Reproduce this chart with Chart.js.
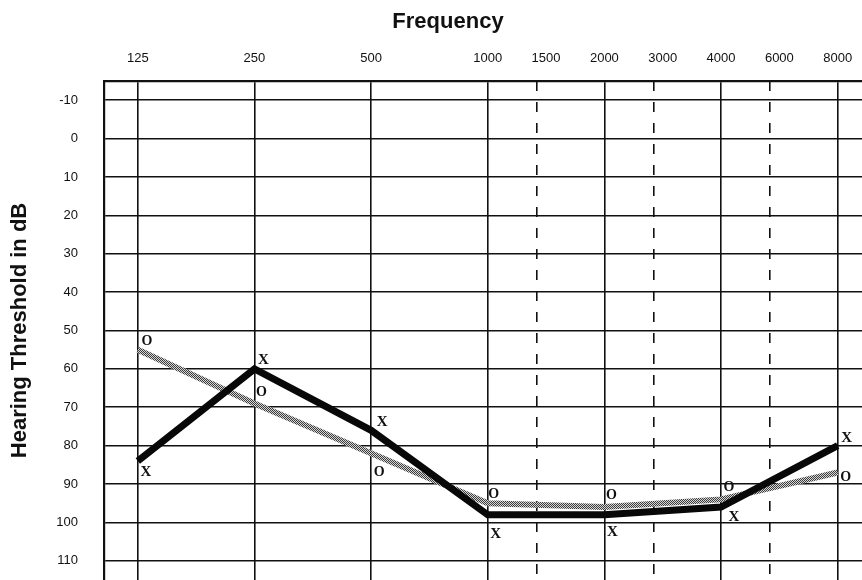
<!DOCTYPE html>
<html>
<head>
<meta charset="utf-8">
<title>Audiogram</title>
<script src="https://cdn.jsdelivr.net/npm/chart.js@4.4.1/dist/chart.umd.min.js"></script>
<style>
  html, body { margin: 0; padding: 0; background: #fff; overflow: hidden; }
  /* the grid runs on past the right edge of the page, as in the scan */
  #wrap { width: 896px; height: 580px; position: relative; }
</style>
</head>
<body>
<div id="wrap"><canvas id="audiogram"></canvas></div>
<script>
// test frequencies (Hz) and thresholds (dB HL)
var frequencies = [125, 250, 500, 1000, 2000, 4000, 8000];
var rightEar = [84, 60, 76, 98, 98, 96, 80];   // marked X
var leftEar = [55, 69, 82, 95, 96, 94, 87];    // marked O
var freqTicks = [125, 250, 500, 1000, 1500, 2000, 3000, 4000, 6000, 8000];
var dbTicks = [-10, 0, 10, 20, 30, 40, 50, 60, 70, 80, 90, 100, 110];
var halfOctaves = [1500, 3000, 6000];

// octaves evenly spaced; half-octave labels halfway, dashed lines a bit before
function octavePos(f, half) {
  var p = Math.log2(f / 125);
  var lo = Math.floor(p + 1e-9);
  if (Math.abs(p - lo) < 1e-9) return lo;
  return lo + (half === undefined ? 0.5 : half);
}

function stipple() {
  var c = document.createElement("canvas");
  c.width = 2;
  c.height = 2;
  var g = c.getContext("2d");
  g.fillStyle = "#d6d6d6";
  g.fillRect(0, 0, 2, 2);
  g.fillStyle = "#3c3c3c";
  g.fillRect(0, 0, 1, 1);
  g.fillRect(1, 1, 1, 1);
  return g.createPattern(c, "repeat");
}

var ink = "#111";
var xMin = -0.29, xMax = 6.5;

// letter offsets next to each threshold point (px)
var xOffsets = [[8, 11], [9, -9], [11, -8], [8, 19], [8, 17], [13, 10], [9, -8]];
var oOffsets = [[9, -8], [7, -11], [8, 19], [6, -9], [7, -12], [8, -12], [8, 5]];

var earLetters = {
  id: "earLetters",
  afterDatasetsDraw: function (chart) {
    var ctx = chart.ctx;
    var marks = [[0, "X", xOffsets, 15], [1, "O", oOffsets, 14]];
    ctx.save();
    ctx.fillStyle = ink;
    ctx.textAlign = "center";
    ctx.textBaseline = "middle";
    marks.forEach(function (m) {
      ctx.font = "bold " + m[3] + 'px "Liberation Serif"';
      chart.getDatasetMeta(m[0]).data.forEach(function (pt, j) {
        ctx.fillText(m[1], pt.x + m[2][j][0], pt.y + m[2][j][1]);
      });
    });
    ctx.restore();
  }
};

var ctx = document.getElementById("audiogram").getContext("2d");
var chart = new Chart(ctx, {
  type: "line",
  data: {
    datasets: [
      {
        label: "Right ear",
        data: frequencies.map(function (f, i) { return { x: octavePos(f), y: rightEar[i] }; }),
        borderColor: "#080808",
        borderWidth: 7,
        borderJoinStyle: "miter",
        pointRadius: 0,
        tension: 0
      },
      {
        label: "Left ear",
        data: frequencies.map(function (f, i) { return { x: octavePos(f), y: leftEar[i] }; }),
        borderColor: stipple(),
        borderWidth: 6,
        pointRadius: 0,
        tension: 0
      }
    ]
  },
  options: {
    responsive: true,
    maintainAspectRatio: false,
    animation: false,
    layout: { padding: 0 },
    plugins: {
      legend: { display: false },
      tooltip: { enabled: false },
      title: {
        display: true,
        text: "Frequency",
        color: ink,
        font: { family: "Liberation Sans", size: 22, weight: "bold" },
        padding: { top: 9, bottom: 0 }
      }
    },
    scales: {
      x: {
        type: "linear",
        position: "top",
        min: xMin,
        max: xMax,
        afterBuildTicks: function (axis) {
          axis.ticks = freqTicks.map(function (f) { return { value: octavePos(f) }; });
        },
        ticks: {
          autoSkip: false,
          maxRotation: 0,
          padding: 15,
          color: ink,
          font: { family: "Liberation Sans", size: 13 },
          callback: function (v, i) { return freqTicks[i]; }
        },
        grid: {
          drawTicks: false,
          lineWidth: 1.6,
          color: function (c) {
            return c.tick && c.tick.value % 1 !== 0 ? "rgba(0,0,0,0)" : ink;
          }
        },
        border: { color: ink, width: 2.2 }
      },
      xDash: {
        type: "linear",
        position: "top",
        min: xMin,
        max: xMax,
        afterBuildTicks: function (axis) {
          axis.ticks = halfOctaves.map(function (f) { return { value: octavePos(f, 0.42) }; });
        },
        ticks: { display: false },
        grid: { drawTicks: false, lineWidth: 1.6, color: ink },
        border: { display: false, dash: [10, 11], dashOffset: 0 }
      },
      y: {
        type: "linear",
        reverse: true,
        min: -15,
        max: 115,
        afterBuildTicks: function (axis) {
          axis.ticks = dbTicks.map(function (v) { return { value: v }; });
        },
        // fixed axis width, and let the plot run to the bottom of the page
        afterFit: function (axis) {
          axis.width = 104;
          axis.paddingTop = 0;
          axis.paddingBottom = 0;
        },
        ticks: {
          padding: 26,
          color: ink,
          font: { family: "Liberation Sans", size: 13 }
        },
        grid: { drawTicks: false, lineWidth: 1.6, color: ink },
        border: { color: ink, width: 2.2 },
        title: {
          display: true,
          text: "Hearing Threshold in dB",
          color: ink,
          font: { family: "Liberation Sans", size: 22, weight: "bold", lineHeight: 1 },
          padding: { top: 9, bottom: 0 }
        }
      }
    }
  },
  plugins: [earLetters]
});
</script>
</body>
</html>
